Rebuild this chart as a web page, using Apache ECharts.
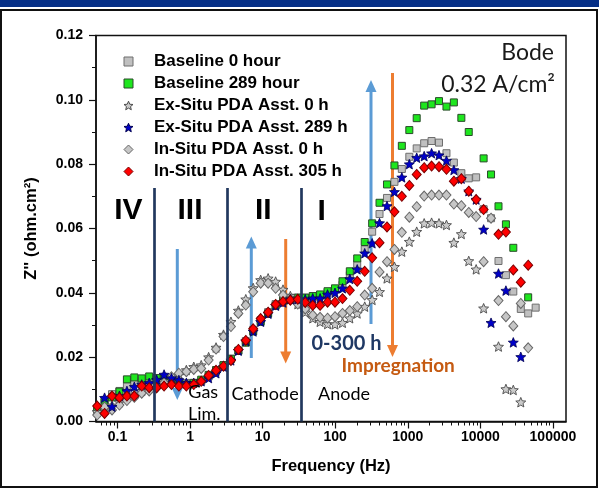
<!DOCTYPE html>
<html><head><meta charset="utf-8">
<script src="https://cdn.jsdelivr.net/npm/echarts@6/dist/echarts.min.js"></script>
<style>html,body{margin:0;padding:0;background:#fff}#c{width:599px;height:489px}</style>
</head><body><div id="c"></div>
<script>
// Frequency grid (Hz)
const freqHz = [0.0525,0.0664,0.0841,0.1064,0.1349,0.1706,0.2158,0.2735,0.3459,0.4385,
0.5546,0.7015,0.889,1.125,1.425,1.803,2.28,2.89,3.66,4.63,
5.86,7.41,9.40,11.9,15.1,19.1,24.1,30.5,38.6,49.0,
61.9,78.4,99.3,126,159,201,255,323,408,517,
655,828,1050,1327,1682,2128,2692,3412,4315,5470,
6918,8750,11090,14030,17780,22490,28440,36060,45600,57800];

const baseline0h = [0.003,0.006,0.0085,0.0095,0.011,0.012,0.0125,0.013,0.013,0.0135,
0.013,0.0125,0.012,0.012,0.0125,0.014,0.0155,0.0175,0.0195,0.022,
0.025,0.0285,0.0315,0.034,0.0365,0.038,0.0385,0.0385,0.0385,0.0385,
0.039,0.040,0.041,0.0425,0.0455,0.049,0.0535,0.059,0.0645,0.0695,
0.0745,0.0785,0.0823,0.0849,0.0865,0.0872,0.0867,0.0834,0.0805,0.0772,
0.0756,0.0759,0.066,0.0632,0.0499,0.0455,0.0404,0.035,0.0336,0.0354];

const baseline289h = [0.004,0.0065,0.0075,0.0093,0.0131,0.0137,0.0134,0.014,0.0135,0.0135,
0.0125,0.012,0.0115,0.012,0.013,0.0145,0.016,0.0175,0.0195,0.022,
0.0245,0.028,0.031,0.0335,0.036,0.0375,0.038,0.0385,0.0385,0.039,
0.0395,0.0405,0.0414,0.0436,0.0467,0.0507,0.0558,0.0616,0.068,0.0737,
0.0796,0.0857,0.0906,0.0943,0.0982,0.0986,0.0996,0.0979,0.0992,0.0944,
0.090,null,0.0818,0.0768,0.0669,0.0613,0.054,null,0.0386,null];

const exSitu0h = [0.003,0.004,0.005,0.006,0.0075,0.0085,0.0095,0.0105,0.0115,0.0125,
0.0135,0.0145,0.016,0.017,0.0175,0.02,0.023,0.027,0.031,0.0345,
0.038,0.0415,0.044,0.0445,0.0435,0.041,0.039,0.0365,0.034,0.0321,
0.031,0.0303,0.0302,0.0307,0.0321,0.0336,0.0357,0.0378,0.0403,0.0445,
0.0481,0.0528,0.0559,0.059,0.0616,0.0618,0.0616,0.0611,0.0556,0.0583,
0.0499,0.0473,0.0352,null,0.0233,0.0101,0.0098,0.006,null,null];

const exSitu289h = [null,0.0074,0.0046,0.008,0.0095,0.0108,0.0115,0.012,0.013,0.0146,
0.0135,0.0129,0.012,0.012,0.0125,0.0135,0.015,0.017,0.019,0.022,
0.025,0.028,0.031,0.0335,0.036,0.037,0.038,0.038,0.038,0.0383,
0.0383,0.0395,0.040,0.0414,0.0443,0.0473,0.0523,0.0554,0.0617,0.067,
0.0714,0.0759,0.080,0.082,0.0825,0.0834,0.0828,0.0811,0.0782,0.0755,
0.0716,0.069,0.0597,0.0307,0.046,0.0407,0.0246,0.0201,null,null];

const inSitu0h = [0.002,0.0045,0.0036,0.0051,0.0065,0.0075,0.0088,0.0095,0.0105,0.012,
0.0139,0.015,0.0155,0.0162,0.0165,0.0191,0.0225,0.0264,0.0295,0.0336,
0.0362,0.0403,0.043,0.043,0.0414,0.0393,0.038,0.0365,0.035,0.0331,
0.0324,0.0321,0.0326,0.0336,0.0345,0.0357,0.0393,0.0414,0.0465,0.0497,
0.0535,0.0588,0.0635,0.0668,0.0701,0.0704,0.0704,0.0704,0.0676,0.0671,
0.065,0.0637,0.0497,0.0632,0.0376,0.0326,0.0297,0.0367,0.0229,null];

const inSitu305h = [0.0048,0.0025,0.0079,0.0074,0.0079,0.0079,0.011,0.0105,0.0105,0.011,
0.0115,0.011,0.011,0.0115,0.0125,0.0143,0.0159,0.0172,0.019,0.0224,
0.0252,0.0288,0.032,0.034,0.0364,0.0373,0.0377,0.038,0.037,0.0361,
0.0361,0.0371,0.0371,0.0382,0.0408,0.0436,0.0467,0.0509,0.0556,0.0605,
0.0652,0.070,0.0734,0.0768,0.0789,0.0794,0.0792,0.0784,0.0747,0.0755,
0.0716,0.069,0.0659,null,0.0582,0.0589,0.0471,0.0433,0.0486,null];

const seriesNames = ['Baseline 0 hour','Baseline 289 hour','Ex-Situ PDA Asst. 0 h','Ex-Situ PDA Asst. 289 h','In-Situ PDA Asst. 0 h','In-Situ PDA Asst. 305 h'];
const xTickLabels = ['0.1','1','10','100','1000','10000','100000'];
const regionBoundsHz = [0.32, 3.28, 34.3];

const lg = Math.log10;
function pts(vals){ const out=[]; vals.forEach((v,i)=>{ if(v!==null) out.push([lg(freqHz[i]), v]); }); return out; }

const STAR = 'path://M100,0L126.45,63.6L195.1,69.1L142.8,113.9L158.8,180.9L100,145L41.2,180.9L57.2,113.9L4.9,69.1L73.55,63.6Z';

const majorLogs = [-1,0,1,2,3,4,5];
const minorLogs = [];
for (let k=-2;k<=5;k++) for (let m=2;m<=9;m++){ const v=k+lg(m); if(v>-1.296 && v<5.18) minorLogs.push(v); }

const chart = echarts.init(document.getElementById('c'), null, {renderer:'canvas'});
const AR = 'Liberation Sans, Arial, sans-serif';
const CAL = 'Lato, Open Sans, sans-serif';

function arrow(x, y1, yTip, color){
  const d = yTip > y1 ? 1 : -1;
  return {type:'group', z:100, children:[
    {type:'line', shape:{x1:x,y1:y1,x2:x,y2:yTip-d*9}, style:{stroke:color,lineWidth:3}},
    {type:'polygon', shape:{points:[[x-5.5,yTip-d*12],[x+5.5,yTip-d*12],[x,yTip]]}, style:{fill:color}}
  ]};
}
function txt(x,y,s,font,color,align){
  return {type:'text', z:100, x:x, y:y, style:{text:s, font:font, fill:color, align:align||'left', verticalAlign:'middle'}};
}

const regionLineData = regionBoundsHz.map(f=>[{coord:[lg(f),0]},{coord:[lg(f),0.0726]}]);

const option = {
  animation:false,
  backgroundColor:'#fff',
  grid:{left:96, top:35.5, width:470, height:386, show:true, borderColor:'#111', borderWidth:1.5, backgroundColor:'transparent'},
  legend:{orient:'vertical', left:123.5, top:53, padding:0, itemWidth:9, itemHeight:9, itemGap:5,
    data:seriesNames, selectedMode:false,
    itemStyle:{borderWidth:1},
    textStyle:{fontFamily:AR, fontWeight:'bold', fontSize:17, color:'#000', lineHeight:9, padding:[0,0,0,16]}},
  xAxis:[{type:'value', min:-1.296, max:5.18, position:'bottom',
      axisLine:{show:true, onZero:false, lineStyle:{color:'#111', width:1.5}},
      axisTick:{show:true, customValues:majorLogs, length:7, lineStyle:{color:'#111', width:1.2}},
      axisLabel:{show:true, customValues:majorLogs, margin:9, fontFamily:AR, fontWeight:'bold', fontSize:14, color:'#000',
        formatter:v=>xTickLabels[Math.round(v)+1]},
      splitLine:{show:false},
      name:'Frequency (Hz)', nameLocation:'middle', nameGap:36,
      nameTextStyle:{fontFamily:AR, fontWeight:'bold', fontSize:16.5, color:'#000'}},
    {type:'value', min:-1.296, max:5.18, position:'bottom', gridIndex:0,
      axisLine:{show:false, onZero:false}, axisLabel:{show:false}, splitLine:{show:false},
      axisTick:{show:true, customValues:minorLogs, length:4, lineStyle:{color:'#111', width:1}}}],
  yAxis:{type:'value', min:0, max:0.12, interval:0.02,
    axisLine:{show:true, onZero:false, lineStyle:{color:'#111', width:1.5}},
    axisTick:{show:true, length:7, lineStyle:{color:'#111', width:1.2}},
    minorTick:{show:true, splitNumber:2, length:4, lineStyle:{color:'#111', width:1}},
    axisLabel:{margin:13, fontFamily:AR, fontWeight:'bold', fontSize:14, color:'#000', formatter:v=>v.toFixed(2)},
    splitLine:{show:false},
    name:"Z'' (ohm.cm²)", nameLocation:'middle', nameGap:56,
    nameTextStyle:{fontFamily:AR, fontWeight:'bold', fontSize:16.5, color:'#000'}},
  series:[
    {name:seriesNames[0], type:'scatter', data:pts(baseline0h), symbol:'rect', symbolSize:7,
      itemStyle:{color:'#c0c0c0', borderColor:'#6e6e6e', borderWidth:1, opacity:1}},
    {name:seriesNames[1], type:'scatter', data:pts(baseline289h), symbol:'rect', symbolSize:7,
      itemStyle:{color:'#1ee61e', borderColor:'#2a4a2a', borderWidth:1, opacity:1}},
    {name:seriesNames[2], type:'scatter', data:pts(exSitu0h), symbol:STAR, symbolSize:[10,9.6],
      itemStyle:{color:'#cacaca', borderColor:'#4a4a4a', borderWidth:0.9, opacity:1}},
    {name:seriesNames[4], type:'scatter', data:pts(inSitu0h), symbol:'diamond', symbolSize:[9,10],
      itemStyle:{color:'#c6c6c6', borderColor:'#666', borderWidth:1, opacity:1}},
    {name:seriesNames[3], type:'scatter', data:pts(exSitu289h), symbol:STAR, symbolSize:[10,9.6],
      itemStyle:{color:'#0000c8', borderColor:'#000050', borderWidth:0.8, opacity:1}},
    {name:seriesNames[5], type:'scatter', data:pts(inSitu305h), symbol:'diamond', symbolSize:[9,10],
      itemStyle:{color:'#ff0000', borderColor:'#7a0000', borderWidth:1, opacity:1},
      markLine:{silent:true, symbol:['none','none'], z:20, label:{show:false},
        lineStyle:{color:'#22385e', width:2.7, type:'solid'}, emphasis:{disabled:true},
        data:regionLineData}}
  ],
  graphic:[
    {type:'rect', z:0, shape:{x:0,y:0,width:599,height:7}, style:{fill:'#062f86'}},
    {type:'rect', z:0, shape:{x:1,y:10,width:596,height:477}, style:{fill:'none', stroke:'#111', lineWidth:2}},
    arrow(177.3, 249, 400, '#5b9bd5'),
    arrow(251.3, 358, 236.5, '#5b9bd5'),
    arrow(285.7, 239, 363.5, '#ed7d31'),
    arrow(371, 324, 80, '#5b9bd5'),
    arrow(392.5, 73, 357, '#ed7d31'),
    txt(128.3,211,'IV','bold 30px '+AR,'#000','center'),
    txt(190,211,'III','bold 30px '+AR,'#000','center'),
    txt(263.3,211,'II','bold 30px '+AR,'#000','center'),
    txt(321.7,212,'I','bold 30px '+AR,'#000','center'),
    txt(311.5,344,'0-300 h','bold 20px '+CAL,'#1f3864','left'),
    txt(341.5,366,'Impregnation','bold 19px '+CAL,'#c55a11','left'),
    txt(318,394,'Anode','18px '+CAL,'#000','left'),
    txt(231.5,394,'Cathode','18px '+CAL,'#000','left'),
    txt(188.3,392.5,'Gas','18px '+CAL,'#000','left'),
    txt(188,414,'Lim.','18px '+CAL,'#000','left'),
    txt(554,53,'Bode','23px '+CAL,'#1a1a1a','right'),
    txt(555,85,'0.32 A/cm²','23px '+CAL,'#1a1a1a','right')
  ]
};
chart.setOption(option);
</script>
</body></html>
